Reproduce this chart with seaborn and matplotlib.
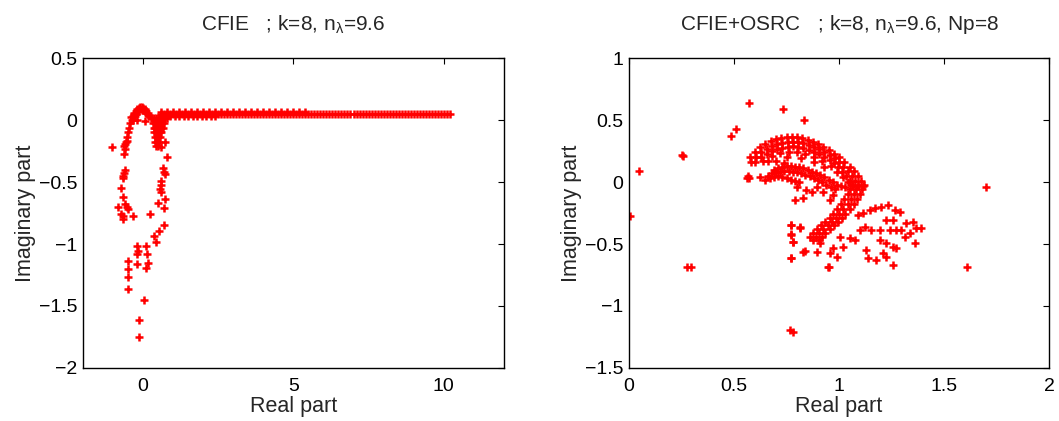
import matplotlib
matplotlib.use('Agg')
import matplotlib.pyplot as plt
import seaborn as sns

# ---- left panel: CFIE eigenvalues ----
# long, dense branch along the real axis
band_re = [0.6, 0.7, 0.8, 0.9, 1.0, 1.1, 1.2, 1.3, 1.4, 1.5, 1.6, 1.7, 1.8, 1.9, 2.0,
           2.1, 2.2, 2.3, 2.4, 2.5, 2.6, 2.7, 2.8, 2.9, 3.0, 3.1, 3.2, 3.3, 3.4, 3.5,
           3.6, 3.7, 3.8, 3.9, 4.0, 4.1, 4.2, 4.3, 4.4, 4.5, 4.6, 4.7, 4.8, 4.9, 5.0,
           5.1, 5.2, 5.3, 5.4, 5.5, 5.6, 5.7, 5.8, 5.9, 6.0, 6.1, 6.2, 6.3, 6.4, 6.5,
           6.6, 6.7, 6.8, 6.9, 7.0, 7.1, 7.2, 7.3, 7.4, 7.5, 7.6, 7.7, 7.8, 7.9, 8.0,
           8.1, 8.2, 8.3, 8.4, 8.5, 8.6, 8.7, 8.8, 8.9, 9.0, 9.1, 9.2, 9.3, 9.4, 9.5,
           9.6, 9.7, 9.8, 9.9, 10.0, 10.1, 10.2]
band_im = [0.047] * len(band_re)
band_top_re = [0.6, 0.8, 1.0, 1.2, 1.4, 1.6, 1.8, 2.0, 2.2, 2.4, 2.6, 2.8, 3.0,
               3.2, 3.4, 3.6, 3.8, 4.0, 4.2, 4.4, 4.6, 4.8, 5.0, 5.2, 5.4]
band_top_im = [0.062] * len(band_top_re)
band_low_re = [0.6, 0.75, 0.9, 1.05, 1.2, 1.35, 1.5, 1.65, 1.8, 1.95, 2.1, 2.25, 2.4]
band_low_im = [0.03] * len(band_low_re)

# small arch around the origin
arch_re = [-0.38, -0.34, -0.30, -0.25, -0.20, -0.15, -0.10, -0.05, 0.0, 0.05, 0.10, 0.15, 0.20, 0.25,
           -0.33, -0.25, -0.15, -0.05, 0.05, 0.15, -0.28, -0.18, 0.0, 0.10]
arch_im = [0.0, 0.03, 0.055, 0.075, 0.09, 0.098, 0.103, 0.105, 0.10, 0.09, 0.075, 0.055, 0.035, 0.02,
           0.0, 0.05, 0.075, 0.08, 0.07, 0.04, 0.03, 0.07, 0.085, 0.06]

# dense wedge just right of the origin
wedge_re = [0.30, 0.36, 0.42, 0.48, 0.54, 0.60, 0.66, 0.72, 0.78,
            0.33, 0.39, 0.45, 0.51, 0.57, 0.63, 0.69,
            0.35, 0.41, 0.47, 0.53, 0.59, 0.65,
            0.37, 0.43, 0.49, 0.55, 0.61,
            0.39, 0.45, 0.51, 0.57,
            0.41, 0.47, 0.53,
            0.44, 0.50]
wedge_im = [0.02] * 9 + [-0.02] * 7 + [-0.06] * 6 + [-0.10] * 5 + [-0.14] * 4 + [-0.18] * 3 + [-0.21] * 2

# scattered loop and tail below
loop_re = [-1.03, -0.39, -0.44, -0.48, -0.50, -0.55, -0.59, -0.61, -0.64,
           -0.59, -0.64, -0.66, -0.68, -0.74, -0.66, -0.59, -0.55, -0.50, -0.85,
           -0.72, -0.68, -0.66, -0.33, -0.22, 0.06,
           0.72, 0.61, 0.78, 0.67, 0.70, 0.72, 0.58, 0.61, 0.555, 0.59, 0.72, 0.70,
           0.50, 0.22, 0.70, 0.53, 0.37, 0.42,
           -0.19, -0.17, -0.19, -0.22, 0.09, 0.13, 0.17, 0.09, -0.50, -0.52, -0.52,
           -0.52, 0.02, -0.13, -0.13, -0.57, -0.62, -0.53]
loop_im = [-0.218, 0.024, -0.02, -0.06, -0.10, -0.17, -0.196, -0.23, -0.277,
           -0.40, -0.425, -0.45, -0.47, -0.546, -0.62, -0.68, -0.70, -0.72, -0.70,
           -0.755, -0.774, -0.80, -0.774, -0.003, -0.008,
           -0.175, -0.218, -0.30, -0.39, -0.417, -0.433, -0.49, -0.52, -0.56, -0.58, -0.64, -0.71,
           -0.67, -0.76, -0.85, -0.895, -0.935, -0.98,
           -1.02, -1.06, -1.08, -1.16, -1.02, -1.08, -1.15, -1.19, -1.14, -1.20, -1.27,
           -1.365, -1.45, -1.615, -1.75, -0.18, -0.21, -0.14]

left_re = band_re + band_top_re + band_low_re + arch_re + wedge_re + loop_re
left_im = band_im + band_top_im + band_low_im + arch_im + wedge_im + loop_im

# ---- right panel: CFIE+OSRC eigenvalues ----
# thick upper arc (outer edge first, then rows further inside)
arc_re = [0.575, 0.60, 0.625, 0.65, 0.675, 0.70, 0.725, 0.75, 0.775, 0.80, 0.825, 0.85,
          0.875, 0.90, 0.925, 0.95, 0.975, 1.0, 1.025, 1.05, 1.07, 1.09, 1.105, 1.115,
          0.58, 0.605, 0.63, 0.655, 0.68, 0.705, 0.73, 0.755, 0.78, 0.805, 0.83, 0.855,
          0.88, 0.905, 0.93, 0.955, 0.98, 1.0, 1.02, 1.04, 1.06, 1.075, 1.09,
          0.60, 0.63, 0.655, 0.68, 0.705, 0.73, 0.755, 0.78, 0.805, 0.83, 0.855,
          0.88, 0.905, 0.93, 0.955, 0.975, 0.995, 1.015, 1.035, 1.05, 1.065,
          0.64, 0.68, 0.72, 0.76, 0.80, 0.84, 0.88, 0.92, 0.96, 0.99, 1.02, 1.04]
arc_im = [0.20, 0.245, 0.285, 0.31, 0.33, 0.345, 0.355, 0.365, 0.367, 0.362, 0.352, 0.34,
          0.325, 0.305, 0.285, 0.26, 0.23, 0.20, 0.165, 0.125, 0.09, 0.05, 0.01, -0.03,
          0.16, 0.205, 0.245, 0.27, 0.29, 0.305, 0.315, 0.325, 0.327, 0.322, 0.312, 0.30,
          0.285, 0.265, 0.245, 0.22, 0.19, 0.16, 0.125, 0.09, 0.05, 0.01, -0.03,
          0.165, 0.205, 0.23, 0.25, 0.265, 0.275, 0.285, 0.287, 0.282, 0.272, 0.26,
          0.245, 0.225, 0.205, 0.18, 0.15, 0.12, 0.085, 0.05, 0.01, -0.03,
          0.17, 0.21, 0.235, 0.245, 0.24, 0.225, 0.205, 0.17, 0.13, 0.08, 0.04, 0.0]

# inner "head" band and scattered points inside the arc
head_re = [0.69, 0.71, 0.73, 0.75, 0.77, 0.79, 0.81, 0.83, 0.85, 0.87, 0.89, 0.91, 0.93, 0.95,
           0.97, 0.99, 1.01, 1.03,
           0.66, 0.68, 0.70, 0.72, 0.74, 0.76, 0.78, 0.80, 0.82, 0.84, 0.86, 0.88, 0.90, 0.92,
           0.94, 0.96, 0.98,
           0.65, 0.67, 0.69, 0.71, 0.73, 0.75, 0.77, 0.79, 0.81,
           0.798, 0.845, 0.893, 0.869, 0.924, 0.972, 0.790, 0.829, 0.956, 0.624, 0.566,
           0.57, 0.56, 0.70, 0.75, 0.82, 0.88, 0.93, 0.66, 0.74]
head_im = [0.10, 0.115, 0.125, 0.13, 0.13, 0.125, 0.12, 0.11, 0.10, 0.085, 0.07, 0.055, 0.04, 0.02,
           0.0, -0.02, -0.03, -0.04,
           0.05, 0.07, 0.08, 0.085, 0.09, 0.09, 0.085, 0.08, 0.07, 0.06, 0.045, 0.03, 0.015, 0.0,
           -0.02, -0.04, -0.06,
           0.02, 0.03, 0.04, 0.045, 0.04, 0.03, 0.02, 0.01, 0.0,
           -0.038, -0.065, -0.038, -0.078, -0.078, -0.105, -0.145, -0.132, -0.145, 0.043, 0.048,
           0.035, 0.03, 0.17, 0.20, 0.19, 0.16, 0.12, 0.17, 0.15]

# thick stem running down-left from the right end of the arc
stem_re = [1.09, 1.08, 1.07, 1.055, 1.04, 1.02, 1.00, 0.985, 0.965, 0.945, 0.925, 0.905, 0.89, 0.875,
           1.12, 1.11, 1.10, 1.085, 1.07, 1.05, 1.03, 1.015, 0.995, 0.975, 0.955, 0.935, 0.92, 0.905,
           1.06, 1.05, 1.04, 1.025, 1.01, 0.99, 0.97, 0.955, 0.935, 0.915, 0.895, 0.875, 0.86]
stem_im = [-0.02, -0.06, -0.10, -0.14, -0.18, -0.22, -0.26, -0.29, -0.32, -0.35, -0.38, -0.41, -0.44, -0.47,
           -0.02, -0.06, -0.10, -0.14, -0.18, -0.22, -0.26, -0.29, -0.32, -0.35, -0.38, -0.41, -0.44, -0.47,
           -0.02, -0.06, -0.10, -0.14, -0.18, -0.22, -0.26, -0.29, -0.32, -0.35, -0.38, -0.41, -0.44]

cloud_re = [1.090, 1.114, 1.146, 1.169, 1.201, 1.233, 1.264, 1.288, 1.225, 1.256, 1.320, 1.351,
            1.367, 1.391, 1.335, 1.312, 1.272, 1.240, 1.193, 1.153, 1.122, 1.098, 1.193, 1.225,
            1.256, 1.272, 1.209, 1.130, 1.138, 1.177, 1.225, 1.256, 1.003, 1.051, 1.074, 1.019,
            0.972, 0.956, 0.948, 0.988, 0.908, 0.893, 0.829, 0.769, 0.814, 0.769, 0.782, 0.769,
            1.359, 1.296]
cloud_im = [-0.266, -0.253, -0.226, -0.212, -0.199, -0.185, -0.226, -0.239, -0.306, -0.306, -0.333, -0.320,
            -0.374, -0.374, -0.414, -0.441, -0.387, -0.387, -0.387, -0.387, -0.360, -0.387, -0.468, -0.495,
            -0.521, -0.535, -0.575, -0.548, -0.616, -0.629, -0.602, -0.669, -0.441, -0.454, -0.468, -0.521,
            -0.535, -0.575, -0.683, -0.602, -0.495, -0.562, -0.562, -0.347, -0.374, -0.427, -0.481, -0.616,
            -0.495, -0.387]

lone_re = [0.008, 0.047, 0.253, 0.26, 0.277, 0.296, 0.486, 0.51, 0.572, 0.735, 0.833, 0.767, 0.783,
           0.77, 0.77, 0.783, 0.814, 0.77, 0.838, 0.953, 1.696, 1.61]
lone_im = [-0.274, 0.09, 0.218, 0.21, -0.683, -0.683, 0.373, 0.425, 0.64, 0.589, 0.50, -1.19, -1.21,
           -0.347, -0.42, -0.48, -0.365, -0.615, -0.56, -0.688, -0.043, -0.688]

right_re = arc_re + head_re + stem_re + cloud_re + lone_re
right_im = arc_im + head_im + stem_im + cloud_im + lone_im

left_xticks = [0, 5, 10]
left_yticks = [-2, -1.5, -1, -0.5, 0, 0.5]
right_xticks = [0, 0.5, 1, 1.5, 2]
right_yticks = [-1.5, -1, -0.5, 0, 0.5, 1]

sns.set_style('white')
plt.rcParams['font.family'] = ['Liberation Sans', 'DejaVu Sans']
plt.rcParams['mathtext.fontset'] = 'custom'
plt.rcParams['mathtext.rm'] = 'Liberation Sans'
plt.rcParams['mathtext.it'] = 'Liberation Sans'
plt.rcParams['mathtext.default'] = 'regular'


def fmt(v):
    return ('%g' % v).replace('-', '\u2212')


fig, axes = plt.subplots(1, 2, figsize=(10.59, 4.21), dpi=100)
plt.subplots_adjust(left=0.0784, right=0.991, bottom=0.126, top=0.862, wspace=0.297)

panels = [
    (axes[0], left_re, left_im, (-2, 12), (-2, 0.5), left_xticks, left_yticks,
     r'CFIE   ; k=8, n$_{\lambda}$=9.6'),
    (axes[1], right_re, right_im, (0, 2), (-1.5, 1), right_xticks, right_yticks,
     r'CFIE+OSRC   ; k=8, n$_{\lambda}$=9.6, Np=8'),
]

for ax, xs, ys, xl, yl, xt, yt, title in panels:
    sns.scatterplot(x=xs, y=ys, ax=ax, marker='+', color='red', s=32, linewidth=1.8)
    ax.set_xlim(*xl)
    ax.set_ylim(*yl)
    ax.set_xticks(xt)
    ax.set_xticklabels([fmt(v) for v in xt])
    ax.set_yticks(yt)
    ax.set_yticklabels([fmt(v) for v in yt])
    ax.tick_params(direction='in', top=True, right=True, length=4, width=0.8,
                   labelsize=14, colors='black')
    ax.tick_params(axis='x', pad=7)
    ax.tick_params(axis='y', pad=4)
    for sp in ax.spines.values():
        sp.set_visible(True)
        sp.set_color('black')
        sp.set_linewidth(1.0)
    ax.set_xlabel('Real part', fontsize=15.5, labelpad=1)
    ax.set_ylabel('Imaginary part', fontsize=15.5, labelpad=2)
    ax.set_title(title, fontsize=15, pad=20)

plt.savefig('out.png', dpi=100)
